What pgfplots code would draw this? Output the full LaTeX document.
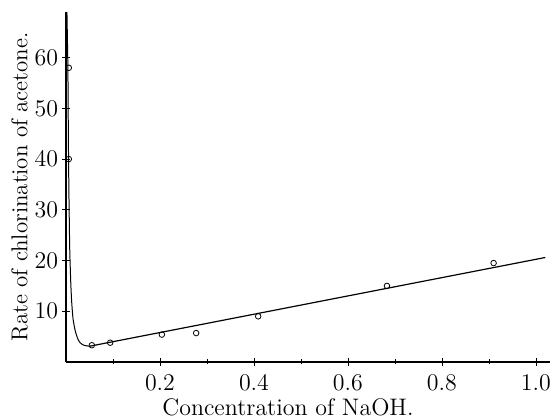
\documentclass[border=0pt]{standalone}
\usepackage{pgfplots}
\pgfplotsset{compat=1.18}

\begin{document}
\begin{tikzpicture}
\begin{axis}[
  scale only axis,
  width=242bp, height=175bp,
  xmin=0, xmax=1.03,
  ymin=0, ymax=69,
  axis lines=left,
  axis line style={-, line width=0.6pt},
  xtick={0.2,0.4,0.6,0.8,1.0},
  minor xtick={0.1,0.3,0.5,0.7,0.9},
  ytick={10,20,30,40,50,60},
  xticklabel style={/pgf/number format/fixed, /pgf/number format/fixed zerofill, /pgf/number format/precision=1, yshift=-1bp},
  yticklabel style={xshift=1.5bp},
  tick align=center,
  major tick length=4pt,
  minor tick length=2.5pt,
  tick style={black, line width=0.4pt},
  ticklabel style={font=\fontsize{11.5}{13}\selectfont},
  xlabel={Concentration of NaOH.},
  ylabel={Rate of chlorination of acetone.},
  xlabel style={font=\fontsize{12}{14}\selectfont, yshift=2.5bp, xshift=-10bp},
  ylabel style={font=\fontsize{11.5}{14}\selectfont, yshift=-3.5bp},
  clip=false,
]
% steep branch near zero
\addplot[black, line width=0.5pt, smooth, tension=0.4] coordinates {
  (0.002,69) (0.004,58) (0.005,45) (0.006,35) (0.007,28) (0.008,22)
  (0.010,16) (0.012,12) (0.015,8.5) (0.020,6) (0.025,4.6) (0.030,3.8)
  (0.038,3.3) (0.050,3.1)
};
% linear branch
\addplot[black, line width=0.6pt] coordinates {(0.050,3.1) (1.020,20.6)};
% measured points
\addplot[only marks, mark=o, mark size=1.4pt, mark options={black, line width=0.4pt, fill=white}] coordinates {
  (0.006,58) (0.006,40) (0.055,3.3) (0.094,3.8) (0.204,5.4) (0.277,5.7)
  (0.409,9.0) (0.683,15.0) (0.910,19.5)
};
\coordinate (bl) at (rel axis cs:0,0);
\coordinate (tr) at (rel axis cs:1,1);
\end{axis}
% page frame: room for labels round the axis
\pgfresetboundingbox
\path ([xshift=-33bp,yshift=-29bp]bl) rectangle ([xshift=1bp,yshift=6bp]tr);
\end{tikzpicture}
\end{document}
